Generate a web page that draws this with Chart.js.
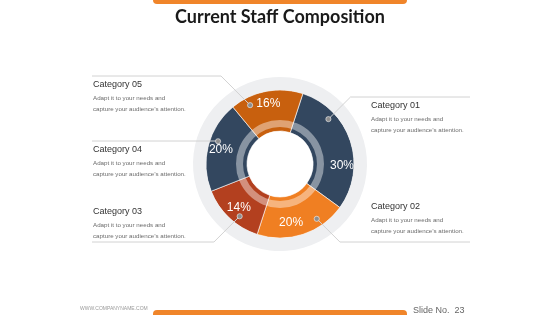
<!DOCTYPE html>
<html>
<head>
<meta charset="utf-8">
<script src="https://cdn.jsdelivr.net/npm/chart.js@4.4.1/dist/chart.umd.min.js"></script>
<style>
  body { margin: 0; background: #fff; }
  canvas { display: block; }
</style>
</head>
<body>
<canvas id="myChart" width="560" height="315"></canvas>
<script>
const categories = ["Category 01", "Category 02", "Category 03", "Category 04", "Category 05"];
const shares = [30, 20, 14, 20, 16];
const descLines = ["Adapt it to your needs and", "capture your audience\u2019s attention."];
const titleText = "Current Staff Composition";
const siteText = "WWW.COMPANYNAME.COM";
const slideText = "Slide No.  23";

const segColors = ["#33475f", "#f07f22", "#b3401f", "#33475f", "#c8600e"];

// where the % text and the little dot sit inside each slice (fraction of the slice sweep)
const labelFrac = [0.67, 0.6, 0.52, 0.5, 0.5];
const labelRad = [62, 59, 59, 61, 62];
const dotFrac = [0.27, 0.28, 0.39, 0.58, 0.22];
// callout layout: side, text x, title y, leader line y
const callouts = [
  { side: "right", x: 371, y: 106, lineY: 97 },
  { side: "right", x: 371, y: 207, lineY: 242 },
  { side: "left", x: 93, y: 212, lineY: 242 },
  { side: "left", x: 93, y: 150, lineY: 141 },
  { side: "left", x: 93, y: 85, lineY: 76 },
];

const ctx = document.getElementById("myChart").getContext("2d");

const decor = {
  id: "decor",
  afterDatasetsDraw(chart) {
    const c = chart.ctx;
    const meta = chart.getDatasetMeta(1);
    const first = meta.data[0];
    const cx = first.x, cy = first.y;
    const rIn = first.innerRadius, rOut = first.outerRadius;

    // translucent band across the slices
    c.save();
    c.beginPath();
    c.arc(cx, cy, rIn + 11, 0, Math.PI * 2);
    c.arc(cx, cy, rIn + 4, 0, Math.PI * 2, true);
    c.fillStyle = "rgba(255,255,255,0.42)";
    c.fill();

    meta.data.forEach((arc, i) => {
      const sweep = arc.endAngle - arc.startAngle;
      // percentage text
      const la = arc.startAngle + sweep * labelFrac[i];
      c.fillStyle = "#ffffff";
      c.font = "12px 'Liberation Sans', Arial, sans-serif";
      c.textAlign = "center";
      c.textBaseline = "middle";
      c.fillText(shares[i] + "%", cx + labelRad[i] * Math.cos(la), cy + labelRad[i] * Math.sin(la) + 1);

      // dot + leader line
      const da = arc.startAngle + sweep * dotFrac[i];
      const dr = rOut - 8;
      const dx = cx + dr * Math.cos(da), dy = cy + dr * Math.sin(da);
      const co = callouts[i];
      const dir = co.side === "right" ? 1 : -1;
      const elbowX = dx + dir * Math.abs(co.lineY - dy);
      c.beginPath();
      c.moveTo(dx, dy);
      c.lineTo(elbowX, co.lineY);
      c.lineTo(co.side === "right" ? 470 : 92, co.lineY);
      c.strokeStyle = "#d2d2d2";
      c.lineWidth = 1;
      c.stroke();

      c.beginPath();
      c.arc(dx, dy, 2.6, 0, Math.PI * 2);
      c.fillStyle = "#8e8e8e";
      c.fill();
      c.strokeStyle = "rgba(255,255,255,0.55)";
      c.lineWidth = 1;
      c.stroke();

      // callout text
      c.textAlign = "left";
      c.fillStyle = "#333333";
      c.font = "9px 'Liberation Sans', Arial, sans-serif";
      c.fillText(categories[i], co.x, co.y);
      c.fillStyle = "#6b6b6b";
      c.font = "6.2px 'Liberation Sans', Arial, sans-serif";
      c.fillText(descLines[0], co.x, co.y + 13);
      c.fillText(descLines[1], co.x, co.y + 24);
    });

    // title, bars and footer
    c.fillStyle = "#f0852a";
    c.beginPath();
    c.roundRect(153, -6, 254, 10, 4);
    c.fill();
    c.beginPath();
    c.roundRect(153, 310, 254, 12, 4);
    c.fill();

    c.fillStyle = "#1a1a1a";
    c.font = "bold 18px Lato, sans-serif";
    c.textAlign = "center";
    c.textBaseline = "middle";
    c.fillText(titleText, 280, 17);

    c.textAlign = "left";
    c.fillStyle = "#9a9a9a";
    c.font = "5px 'Liberation Sans', Arial, sans-serif";
    c.fillText(siteText, 80, 309);
    c.fillStyle = "#666666";
    c.font = "9px 'Liberation Sans', Arial, sans-serif";
    c.fillText(slideText, 413, 311);
    c.restore();
  },
};

const myChart = new Chart(ctx, {
  type: "doughnut",
  data: {
    labels: categories,
    datasets: [
      {
        label: "ring",
        data: [1],
        backgroundColor: "#eeeff1",
        borderWidth: 0,
        weight: 13,
      },
      {
        label: "Staff",
        data: shares,
        backgroundColor: segColors,
        borderColor: "rgba(255,255,255,0.6)",
        borderWidth: 1,
        weight: 41,
      },
    ],
  },
  options: {
    responsive: false,
    animation: false,
    events: [],
    rotation: 18,
    cutout: 33,
    layout: { padding: { left: 193, right: 193, top: 77, bottom: 64 } },
    plugins: {
      legend: { display: false },
      tooltip: { enabled: false },
    },
  },
  plugins: [decor],
});
</script>
</body>
</html>
